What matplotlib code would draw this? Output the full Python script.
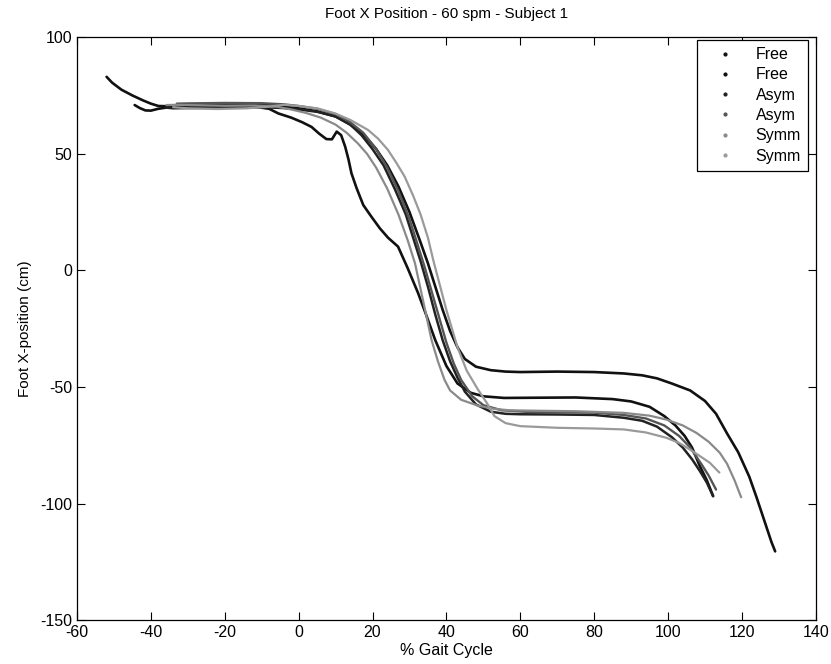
import numpy as np
import matplotlib
matplotlib.use('Agg')
import matplotlib.pyplot as plt
from matplotlib.lines import Line2D

plt.rcParams['font.family'] = ['Liberation Sans', 'DejaVu Sans']
plt.rcParams['axes.unicode_minus'] = False

# Foot X position traces (% gait cycle, cm)
free1_x = [-52, -50.5, -48, -45, -42, -40, -38, -34, -28, -20, -12, -6, 0, 5, 10, 14, 18, 21, 24, 27,
           30, 33, 35, 37, 39, 41, 43, 45, 48, 52, 56, 60, 70, 80, 88, 93, 97, 101, 106, 110,
           113, 116, 119, 122, 124, 126, 128, 129]
free1_y = [83, 80.5, 77.5, 75, 72.8, 71.5, 70.5, 70.3, 70.6, 71, 71, 70.6, 69.5, 68.2, 66, 62.5, 57.5, 52, 45, 36,
           25, 12, 3, -7, -17, -26, -33, -38, -41.3, -42.8, -43.4, -43.6, -43.4, -43.6, -44.2, -45, -46.3, -48.5, -51.5, -56,
           -61.5, -70, -78, -88.5, -97.5, -107, -116.5, -120.5]

free2_x = [-44.4, -43, -41.5, -40, -38, -35, -28, -20, -12, -8, -5.5, -2, 1, 3.5, 5.5, 7.5, 9, 10.3, 11.5, 12.6,
           13.5, 14.3, 15.7, 17.5, 19.7, 22, 24.2, 26.9, 29.5, 32.3, 34.5, 37, 40, 43, 46.6, 50, 55.6, 65, 75, 85,
           90, 95, 99, 102, 104.5, 106.5, 108.6, 110.5, 112.2]
free2_y = [70.9, 69.6, 68.6, 68.5, 69.3, 70, 70.3, 70.5, 70.2, 69.3, 67.3, 65.5, 63.5, 61.5, 58.7, 56.3, 56.2, 59.5, 58, 53,
           47.5, 41.6, 35.2, 28, 23, 18, 14, 10.2, 1, -9.6, -19, -30, -41, -48.5, -52.5, -54, -54.7, -54.6, -54.5, -55.2,
           -56.2, -58.5, -62.5, -66.5, -71, -76, -83.9, -90, -96.8]

asym1_x = [-36, -34, -30, -20, -10, -4, 0, 5, 10, 14, 17, 20, 23, 26, 29, 31, 33, 35, 37, 39,
           41, 43, 45, 48, 52, 56, 60, 70, 80, 88, 93, 97, 101, 104, 106.5, 108.6, 110.5, 112.2]
asym1_y = [69.8, 69.5, 69.6, 69.8, 70, 69.6, 69, 68, 66, 62.5, 58, 52, 45, 35, 24, 14, 4, -7, -19, -30,
           -39, -46, -52, -57.5, -60.6, -61.5, -61.7, -61.8, -62, -63.2, -64.5, -67, -71.5, -76, -81, -86, -91, -96.8]

asym2_x = [-33, -30, -20, -10, -4, 0, 5, 10, 14, 17.5, 21, 24, 27, 30, 32, 34, 36, 38, 40, 42,
           44, 47, 50, 55, 62, 70, 80, 88, 94, 99, 103, 106, 109, 111, 113]
asym2_y = [71.5, 71.6, 71.8, 71.7, 71.2, 70.5, 69.3, 67, 63.5, 59, 52, 44, 34, 22, 12, 2, -9, -20, -31, -40,
           -47, -54, -57.8, -60, -60.7, -60.8, -61, -62, -63.5, -66.5, -71, -76, -83, -88, -94]

symm1_x = [-35.8, -33, -28, -20, -12, -6, -2, 2, 6, 10, 13, 16, 18.5, 21, 24, 27, 29.5, 31.5, 33, 34.5,
           36, 37.7, 39.5, 41, 44, 48.5, 53, 57, 65, 75, 88, 95, 99.6, 104, 107.7, 111, 114, 116, 118, 119.8]
symm1_y = [70.9, 71, 70.8, 70.6, 70.7, 70.2, 69, 67.5, 65.5, 62.5, 59, 54.5, 50, 44, 35, 24, 13, 3, -8, -19,
           -30, -39, -47, -51.5, -55.5, -58, -59.4, -60, -60.2, -60.4, -61.1, -62.3, -64, -66.5, -69.7, -73.5, -78.2, -83, -90, -97.3]

symm2_x = [-34, -30, -22, -14, -8, -4, 0, 5, 9.9, 14, 18.8, 21.5, 24.2, 26.5, 28.7, 31, 33, 35, 36.5, 38.5,
           40, 43, 45.5, 48.5, 51, 53, 56, 60, 70, 80, 88, 94, 99.6, 103, 105.9, 108.5, 111.3, 113.9]
symm2_y = [70, 69.5, 69.2, 69.5, 70.2, 71, 70.5, 69.5, 67.3, 64.5, 60.2, 56.5, 51.6, 46, 40.2, 32, 24, 14, 4, -8,
           -17, -33, -43, -51, -57, -62.5, -65.5, -66.8, -67.5, -67.8, -68.2, -69.5, -71.8, -74, -76.8, -79.5, -82.5, -86.7]

labels = ['Free', 'Free', 'Asym', 'Asym', 'Symm', 'Symm']
colors = ['#111111', '#111111', '#222222', '#555555', '#8a8a8a', '#9a9a9a']
widths = [1.9, 1.9, 1.8, 1.7, 1.6, 1.6]
series = [(free1_x, free1_y), (free2_x, free2_y), (asym1_x, asym1_y),
          (asym2_x, asym2_y), (symm1_x, symm1_y), (symm2_x, symm2_y)]

fig = plt.figure(figsize=(8.31, 6.64), dpi=100)
ax = fig.add_axes([0.0927, 0.066, 0.889, 0.878])

for (x, y), c, w in zip(series, colors, widths):
    ax.plot(x, y, color=c, lw=w, solid_capstyle='round')

ax.set_xlim(-60, 140)
ax.set_ylim(-150, 100)
ax.set_xticks(np.arange(-60, 141, 20))
ax.set_yticks(np.arange(-150, 101, 50))
ax.tick_params(direction='in', top=True, right=True, labelsize=11.5, length=6, width=0.8)
for s in ax.spines.values():
    s.set_linewidth(0.9)

ax.set_title('Foot X Position - 60 spm - Subject 1', fontsize=11, pad=14)
ax.set_xlabel('% Gait Cycle', fontsize=11.5, labelpad=2)
ax.set_ylabel('Foot X-position (cm)', fontsize=11, labelpad=6)

handles = [Line2D([], [], ls='none', marker='.', markersize=4, color=c) for c in colors]
leg = ax.legend(handles, labels, loc='upper right', fontsize=11.5, frameon=True, fancybox=False,
                edgecolor='black', framealpha=1, labelspacing=0.33, handlelength=2.6,
                handletextpad=0.6, borderpad=0.45, borderaxespad=0,
                bbox_to_anchor=(808 / 831, 1 - 40 / 664), bbox_transform=fig.transFigure)
leg.get_frame().set_linewidth(0.9)

fig.savefig('out.png', dpi=100)
